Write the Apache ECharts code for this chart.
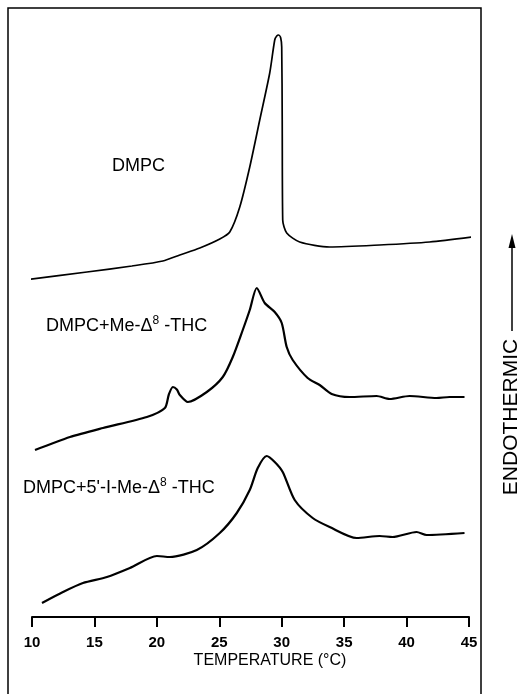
<!DOCTYPE html>
<html><head><meta charset="utf-8">
<script src="https://cdn.jsdelivr.net/npm/echarts@6/dist/echarts.min.js"></script>
<style>html,body{margin:0;padding:0;background:#fff}#c{width:525px;height:694px}</style>
</head><body><div id="c"></div>
<script>
// Temperature (°C) and relative heat-flow (arbitrary units, offset traces)
const dmpcT = [9.44, 14.4, 18.0, 20.48, 21.84, 23.44, 25.04, 25.84, 26.64, 27.44, 28.24, 29.04, 29.44, 29.6, 29.76, 29.92, 30.0, 30.04, 30.08, 30.4, 31.44, 33.84, 37.84, 41.84, 45.28];
const dmpcV = [67.4, 69, 70.2, 71.2, 72.4, 73.8, 75.6, 77, 82, 90, 99.4, 108.8, 115.4, 116.2, 116.4, 115.8, 114, 99.4, 79.4, 76.8, 75, 74, 74.4, 75, 76];

const meT = [10.24, 13.04, 15.68, 19.2, 20.64, 20.96, 21.28, 21.6, 21.84, 22.48, 24.0, 25.28, 26.08, 26.88, 27.44, 28.0, 28.64, 29.44, 30.0, 30.4, 30.88, 32.08, 33.04, 34.0, 35.44, 37.6, 38.64, 40.24, 42.4, 43.44, 44.64];
const meV = [33.4, 36, 37.8, 40, 41.8, 44.5, 46, 45.5, 44.4, 43, 45, 48, 52, 57.4, 61.4, 65.8, 62.8, 61, 58.8, 54, 51.4, 47.8, 46.4, 44.6, 44, 44.2, 43.6, 44.2, 43.8, 44, 44];

const iodoT = [10.8, 12.48, 14.08, 16.0, 17.84, 20.0, 21.04, 23.2, 25.04, 26.4, 27.44, 28.08, 28.8, 29.44, 30.08, 31.04, 32.48, 33.84, 36.0, 37.84, 38.88, 40.8, 41.6, 44.64];
const iodoV = [2.8, 5, 6.8, 8, 9.8, 12.2, 12, 13.4, 16.8, 20.8, 25.4, 29.8, 32.2, 31, 29, 23.4, 19.8, 18, 15.8, 16.2, 16, 17, 16.4, 16.8];

const xTicks = [10, 15, 20, 25, 30, 35, 40, 45];
const labels = ['DMPC', 'DMPC+Me-Δ{s|8} -THC', "DMPC+5'-I-Me-Δ{s|8} -THC"];
const xTitle = 'TEMPERATURE (°C)';
const sideTitle = 'ENDOTHERMIC';

function zip(a, b) { return a.map((t, i) => [t, b[i]]); }
const FONT = '"Liberation Sans", Arial, Helvetica, sans-serif';
const chart = echarts.init(document.getElementById('c'), null, {renderer: 'canvas'});
const lineSeries = (T, V, w) => ({
  type: 'line', data: zip(T, V), showSymbol: false, symbol: 'none', clip: false,
  smooth: 0.25,
  lineStyle: {color: '#000', width: w}
});
const richS = {s: {fontSize: 12, fontFamily: FONT, fill: '#000', padding: [0, 0, 10, 0]}};
chart.setOption({
  animation: false,
  backgroundColor: '#fff',
  grid: {left: 32, right: 56, top: 17, bottom: 77},
  xAxis: {
    type: 'value', min: xTicks[0], max: xTicks[xTicks.length - 1], interval: 5,
    axisLine: {lineStyle: {color: '#000', width: 2}},
    axisTick: {length: 10, lineStyle: {color: '#000', width: 2}},
    axisLabel: {fontFamily: FONT, fontSize: 15, fontWeight: 'bold', color: '#000', margin: 18},
    splitLine: {show: false}
  },
  yAxis: {type: 'value', min: 0, max: 120, show: false},
  series: [lineSeries(dmpcT, dmpcV, 1.7), lineSeries(meT, meV, 2.2), lineSeries(iodoT, iodoV, 2.2)],
  graphic: [
    {type: 'rect', shape: {x: 8, y: 8, width: 473, height: 700}, style: {fill: 'none', stroke: '#000', lineWidth: 1.5}, silent: true},
    {type: 'text', x: 112, y: 166, style: {text: labels[0], font: '18px ' + FONT, fill: '#000', textVerticalAlign: 'middle'}},
    {type: 'text', x: 46, y: 326, style: {text: labels[1], font: '18px ' + FONT, fill: '#000', textVerticalAlign: 'middle', rich: richS}},
    {type: 'text', x: 23, y: 488, style: {text: labels[2], font: '18px ' + FONT, fill: '#000', textVerticalAlign: 'middle', rich: richS}},
    {type: 'text', x: 270, y: 661, style: {text: xTitle, font: '16px ' + FONT, fill: '#000', textAlign: 'center', textVerticalAlign: 'middle'}},
    {type: 'text', x: 511, y: 417, rotation: Math.PI / 2, style: {text: sideTitle, font: '21px ' + FONT, fill: '#000', textAlign: 'center', textVerticalAlign: 'middle'}},
    {type: 'line', shape: {x1: 512, y1: 331, x2: 512, y2: 244}, style: {stroke: '#000', lineWidth: 1.5}},
    {type: 'polygon', shape: {points: [[512, 234], [508.5, 248], [515.5, 248]]}, style: {fill: '#000'}}
  ]
});
</script></body></html>
